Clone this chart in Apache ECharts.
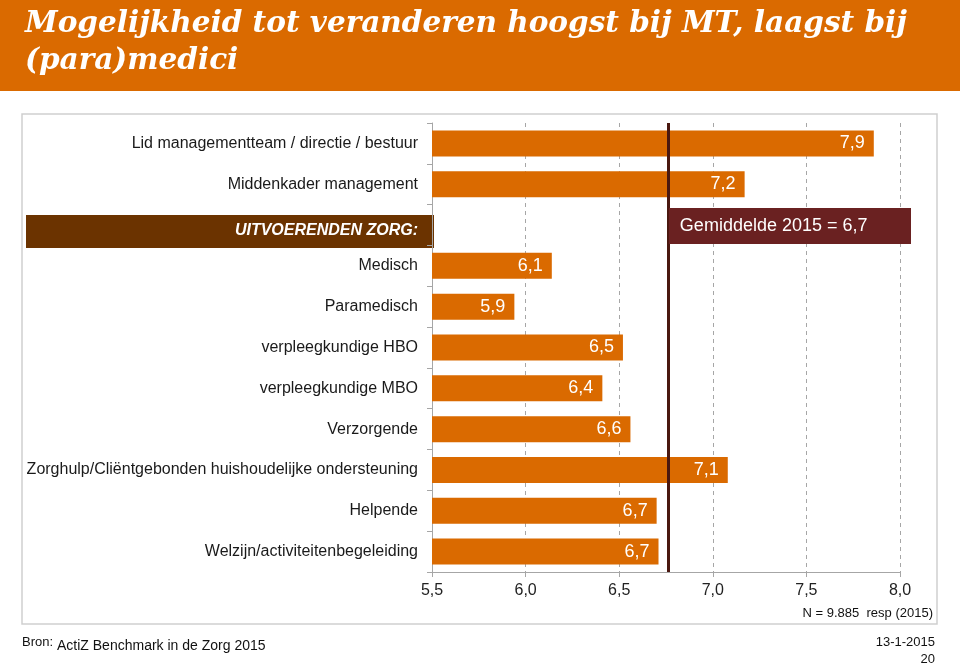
<!DOCTYPE html>
<html>
<head>
<meta charset="utf-8">
<script src="https://cdn.jsdelivr.net/npm/echarts@6/dist/echarts.min.js"></script>
<style>html,body{margin:0;padding:0;background:#fff}#c{width:960px;height:666px}</style>
</head>
<body>
<div id="c"></div>
<script>
const titleText = 'Mogelijkheid tot veranderen hoogst bij MT, laagst bij\n(para)medici';
const categories = [
  'Lid managementteam / directie / bestuur',
  'Middenkader management',
  'UITVOERENDEN ZORG:',
  'Medisch',
  'Paramedisch',
  'verpleegkundige HBO',
  'verpleegkundige MBO',
  'Verzorgende',
  'Zorghulp/Cliëntgebonden huishoudelijke ondersteuning',
  'Helpende',
  'Welzijn/activiteitenbegeleiding'
];
const values = [7.86, 7.17, null, 6.14, 5.94, 6.52, 6.41, 6.56, 7.08, 6.70, 6.71];
const headerCategory = 'UITVOERENDEN ZORG:';
const meanValue = 6.76;
const meanLabel = 'Gemiddelde 2015 = 6,7';
const xTicks = { min: 5.5, max: 8.0, interval: 0.5 };
const noteText = 'N = 9.885  resp (2015)';
const sourceLabel = 'Bron:';
const sourceText = 'ActiZ Benchmark in de Zorg 2015';
const dateText = '13-1-2015';
const pageText = '20';

const ORANGE = '#DA6A00';
const FONT = '"Liberation Sans", Arial, sans-serif';
const fmt = v => v.toFixed(1).replace('.', ',');

const chart = echarts.init(document.getElementById('c'), null, {renderer: 'canvas'});
chart.setOption({
  animation: false,
  backgroundColor: '#fff',
  title: {
    text: titleText,
    left: 20, top: 1,
    textStyle: {
      color: '#fff', fontFamily: '"DejaVu Serif", serif', fontWeight: 'bold',
      fontStyle: 'italic', fontSize: 29.5, lineHeight: 37
    }
  },
  grid: { left: 432, right: 60, top: 123, bottom: 94, containLabel: false },
  xAxis: {
    type: 'value', min: xTicks.min, max: xTicks.max, interval: xTicks.interval,
    axisLine: { show: true, lineStyle: { color: '#a6a6a6' } },
    axisTick: { show: true, length: 5, lineStyle: { color: '#a6a6a6' } },
    axisLabel: { formatter: v => fmt(v), color: '#222', fontSize: 16, fontFamily: FONT, margin: 11 },
    splitLine: { show: true, lineStyle: { color: '#a6a6a6', type: [4, 4], width: 1 } }
  },
  yAxis: {
    type: 'category', data: categories, inverse: true,
    axisLine: { show: true, lineStyle: { color: '#a6a6a6' } },
    axisTick: { show: true, length: 5, lineStyle: { color: '#a6a6a6' } },
    axisLabel: {
      color: '#1a1a1a', fontSize: 16, fontFamily: FONT, margin: 14,
      formatter: v => v === headerCategory ? '{h|' + v + '}' : v,
      rich: { h: { color: '#fff', fontWeight: 'bold', fontStyle: 'italic', fontSize: 16, fontFamily: FONT, padding: [11, 0, 0, 0] } }
    }
  },
  series: [{
    type: 'bar', data: values, barWidth: 26, z: 3,
    itemStyle: { color: ORANGE },
    label: {
      show: true, position: 'insideRight', distance: 9, color: '#fff',
      fontSize: 18, fontFamily: FONT, formatter: p => fmt(p.value)
    },
    markLine: {
      silent: true, symbol: 'none', z: 5,
      lineStyle: { color: '#4A1810', width: 3, type: 'solid' },
      label: { show: false },
      data: [{ xAxis: meanValue }]
    }
  }]
});

function drawExtras() {
  const yH = chart.convertToPixel({ yAxisIndex: 0 }, headerCategory);
  const xM = chart.convertToPixel({ xAxisIndex: 0 }, meanValue);
  chart.setOption({
    graphic: [
      { type: 'rect', z: -10, shape: { x: 0, y: 0, width: 960, height: 91 }, style: { fill: ORANGE } },
      { type: 'rect', z: -10, shape: { x: 22, y: 114, width: 915, height: 510 }, style: { fill: 'none', stroke: '#cfcfcf', lineWidth: 1.5 } },
      { type: 'rect', z: -5, shape: { x: 26, y: yH - 10, width: 408, height: 33 }, style: { fill: '#6B3300' } },
      { type: 'rect', z: 10, shape: { x: xM + 1, y: yH - 17, width: 910 - xM, height: 36 }, style: { fill: '#6A2121' } },
      { type: 'text', z: 11, x: xM + 12, y: yH + 1, style: { text: meanLabel, fill: '#fff', font: '18px ' + FONT, textVerticalAlign: 'middle' } },
      { type: 'text', x: 933, y: 613, style: { text: noteText, fill: '#111', font: '13px ' + FONT, textAlign: 'right', textVerticalAlign: 'middle' } },
      { type: 'text', x: 22, y: 642, style: { text: sourceLabel, fill: '#111', font: '13px ' + FONT, textVerticalAlign: 'middle' } },
      { type: 'text', x: 57, y: 646, style: { text: sourceText, fill: '#111', font: '14px ' + FONT, textVerticalAlign: 'middle' } },
      { type: 'text', x: 935, y: 642, style: { text: dateText, fill: '#111', font: '13px ' + FONT, textAlign: 'right', textVerticalAlign: 'middle' } },
      { type: 'text', x: 935, y: 659, style: { text: pageText, fill: '#111', font: '13px ' + FONT, textAlign: 'right', textVerticalAlign: 'middle' } }
    ]
  });
}
drawExtras();
</script>
</body>
</html>
